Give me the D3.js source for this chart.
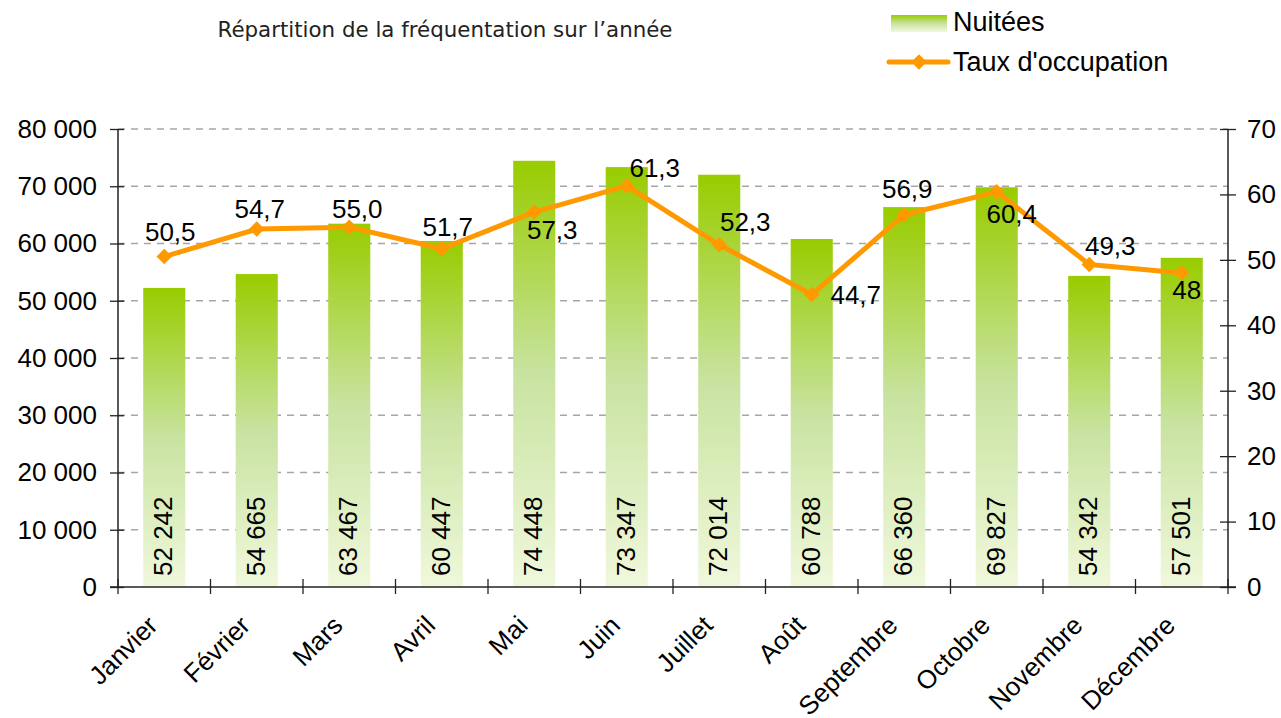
<!DOCTYPE html>
<html>
<head>
<meta charset="utf-8">
<script src="https://cdn.jsdelivr.net/npm/d3@7"></script>
<style>
  body { margin: 0; background: #fff; }
  text { font-family: "Liberation Sans", Arial, sans-serif; fill: #000; }
</style>
</head>
<body>
<div id="chart"></div>
<script>
// chart data
const months = ["Janvier", "Février", "Mars", "Avril", "Mai", "Juin", "Juillet",
  "Août", "Septembre", "Octobre", "Novembre", "Décembre"];
const nuitees = [52242, 54665, 63467, 60447, 74448, 73347, 72014, 60788, 66360, 69827, 54342, 57501];
const tauxOccupation = [50.5, 54.7, 55.0, 51.7, 57.3, 61.3, 52.3, 44.7, 56.9, 60.4, 49.3, 48];
const tauxLabels = ["50,5", "54,7", "55,0", "51,7", "57,3", "61,3", "52,3", "44,7", "56,9", "60,4", "49,3", "48"];
const leftTicks = [0, 10000, 20000, 30000, 40000, 50000, 60000, 70000, 80000];
const rightTicks = [0, 10, 20, 30, 40, 50, 60, 70];

// where each line label sits relative to its marker (layout only)
const labelOffsets = [[6, -16], [3, -11], [8, -9], [6, -13], [18, 27], [28, -9],
  [26, -14], [44, 9], [3, -17], [15, 31], [21, -9], [5, 26]];

const width = 1281, height = 718;
const plot = { left: 118, right: 1228, top: 129, bottom: 587 };
const fontSize = 26;

const svg = d3.select("#chart").append("svg")
  .attr("width", width).attr("height", height);

// gradient used by bars and legend
const defs = svg.append("defs");
const grad = defs.append("linearGradient")
  .attr("id", "barGrad").attr("x1", 0).attr("y1", 0).attr("x2", 0).attr("y2", 1);
grad.append("stop").attr("offset", "0%").attr("stop-color", "#99CC00");
grad.append("stop").attr("offset", "50%").attr("stop-color", "#C8E3A0");
grad.append("stop").attr("offset", "100%").attr("stop-color", "#F0F8DC");

const x = d3.scaleBand().domain(months)
  .range([plot.left, plot.right]).paddingInner(0.545).paddingOuter(0.2725);
const step = x.step();
const yLeft = d3.scaleLinear().domain([0, 80000]).range([plot.bottom, plot.top]);
const yRight = d3.scaleLinear().domain([0, 70]).range([plot.bottom, plot.top]);

const fmt = (v) => d3.format(",")(v).replace(/,/g, " ");

// gridlines
svg.append("g").selectAll("line")
  .data(leftTicks.filter((d) => d > 0))
  .enter().append("line")
  .attr("x1", plot.left).attr("x2", plot.right)
  .attr("y1", (d) => yLeft(d)).attr("y2", (d) => yLeft(d))
  .attr("stroke", "#A6A6A6").attr("stroke-width", 1.3)
  .attr("stroke-dasharray", "7,6");

// bars
svg.append("g").selectAll("rect")
  .data(nuitees)
  .enter().append("rect")
  .attr("x", (d, i) => x(months[i]))
  .attr("y", (d) => yLeft(d))
  .attr("width", x.bandwidth())
  .attr("height", (d) => plot.bottom - yLeft(d))
  .attr("fill", "url(#barGrad)");

// bar labels (rotated)
svg.append("g").selectAll("text")
  .data(nuitees)
  .enter().append("text")
  .attr("transform", (d, i) => `translate(${x(months[i]) + x.bandwidth() / 2 - 1},576) rotate(-90)`)
  .attr("dy", "0.35em")
  .attr("font-size", fontSize)
  .text((d) => fmt(d));

// axes
const axisColor = "#222";
const leftAxis = svg.append("g").attr("transform", `translate(${plot.left},0)`)
  .call(d3.axisLeft(yLeft).tickValues(leftTicks).tickSize(8).tickFormat(fmt));
leftAxis.select(".domain").remove();
leftAxis.selectAll(".tick line").attr("x2", -8).attr("x1", 6).attr("stroke", axisColor).attr("stroke-width", 1.3);
leftAxis.selectAll(".tick text").attr("x", -21).attr("font-size", fontSize)
  .attr("font-family", "Liberation Sans, Arial, sans-serif").attr("fill", "#000");

const rightAxis = svg.append("g").attr("transform", `translate(${plot.right},0)`)
  .call(d3.axisRight(yRight).tickValues(rightTicks).tickSize(8));
rightAxis.select(".domain").remove();
rightAxis.selectAll(".tick line").attr("x1", -8).attr("x2", 8).attr("stroke", axisColor).attr("stroke-width", 1.3);
rightAxis.selectAll(".tick text").attr("x", 19).attr("font-size", fontSize)
  .attr("font-family", "Liberation Sans, Arial, sans-serif").attr("fill", "#000");

// axis lines
svg.append("line").attr("x1", plot.left).attr("x2", plot.left)
  .attr("y1", plot.top).attr("y2", plot.bottom)
  .attr("stroke", axisColor).attr("stroke-width", 1.5);
svg.append("line").attr("x1", plot.right).attr("x2", plot.right)
  .attr("y1", plot.top).attr("y2", plot.bottom)
  .attr("stroke", axisColor).attr("stroke-width", 1.5);
svg.append("line").attr("x1", plot.left - 8).attr("x2", plot.right + 8)
  .attr("y1", plot.bottom).attr("y2", plot.bottom)
  .attr("stroke", axisColor).attr("stroke-width", 1.5);

// category ticks at band boundaries
svg.append("g").selectAll("line")
  .data(d3.range(months.length + 1))
  .enter().append("line")
  .attr("x1", (i) => plot.left + i * step).attr("x2", (i) => plot.left + i * step)
  .attr("y1", plot.bottom - 8).attr("y2", plot.bottom + 7)
  .attr("stroke", axisColor).attr("stroke-width", 1.3);

// category labels
svg.append("g").selectAll("text")
  .data(months)
  .enter().append("text")
  .attr("transform", (d) => `translate(${x(d) + x.bandwidth() / 2 - 5},627) rotate(-45)`)
  .attr("text-anchor", "end")
  .attr("font-size", fontSize)
  .text((d) => d);

// occupancy line
const lineGen = d3.line()
  .x((d, i) => x(months[i]) + x.bandwidth() / 2)
  .y((d) => yRight(d));
svg.append("path").datum(tauxOccupation)
  .attr("d", lineGen)
  .attr("fill", "none").attr("stroke", "#FF9900").attr("stroke-width", 5)
  .attr("stroke-linejoin", "round");

const diamond = d3.symbol().type(d3.symbolSquare).size(120);
svg.append("g").selectAll("path")
  .data(tauxOccupation)
  .enter().append("path")
  .attr("d", diamond)
  .attr("transform", (d, i) => `translate(${x(months[i]) + x.bandwidth() / 2},${yRight(d)}) rotate(45)`)
  .attr("fill", "#FF9900");

svg.append("g").selectAll("text")
  .data(tauxOccupation)
  .enter().append("text")
  .attr("x", (d, i) => x(months[i]) + x.bandwidth() / 2 + labelOffsets[i][0])
  .attr("y", (d, i) => yRight(d) + labelOffsets[i][1])
  .attr("text-anchor", "middle")
  .attr("font-size", fontSize)
  .text((d, i) => tauxLabels[i]);

// title
svg.append("text")
  .attr("x", 445).attr("y", 37)
  .attr("text-anchor", "middle")
  .attr("font-size", 22)
  .attr("textLength", 455).attr("lengthAdjust", "spacingAndGlyphs")
  .style("font-family", "'Segoe Print', 'Comic Sans MS', 'DejaVu Sans', sans-serif")
  .style("fill", "#222")
  .text("Répartition de la fréquentation sur l’année");

// legend
const legend = svg.append("g");
legend.append("rect").attr("x", 891).attr("y", 15).attr("width", 56).attr("height", 17)
  .attr("fill", "url(#barGrad)");
legend.append("text").attr("x", 953).attr("y", 31).attr("font-size", 27).text("Nuitées");
legend.append("line").attr("x1", 889).attr("x2", 948).attr("y1", 62).attr("y2", 62)
  .attr("stroke", "#FF9900").attr("stroke-width", 5).attr("stroke-linecap", "round");
legend.append("path").attr("d", diamond)
  .attr("transform", "translate(919,62) rotate(45)").attr("fill", "#FF9900");
legend.append("text").attr("x", 953).attr("y", 71).attr("font-size", 27).text("Taux d'occupation");
</script>
</body>
</html>
